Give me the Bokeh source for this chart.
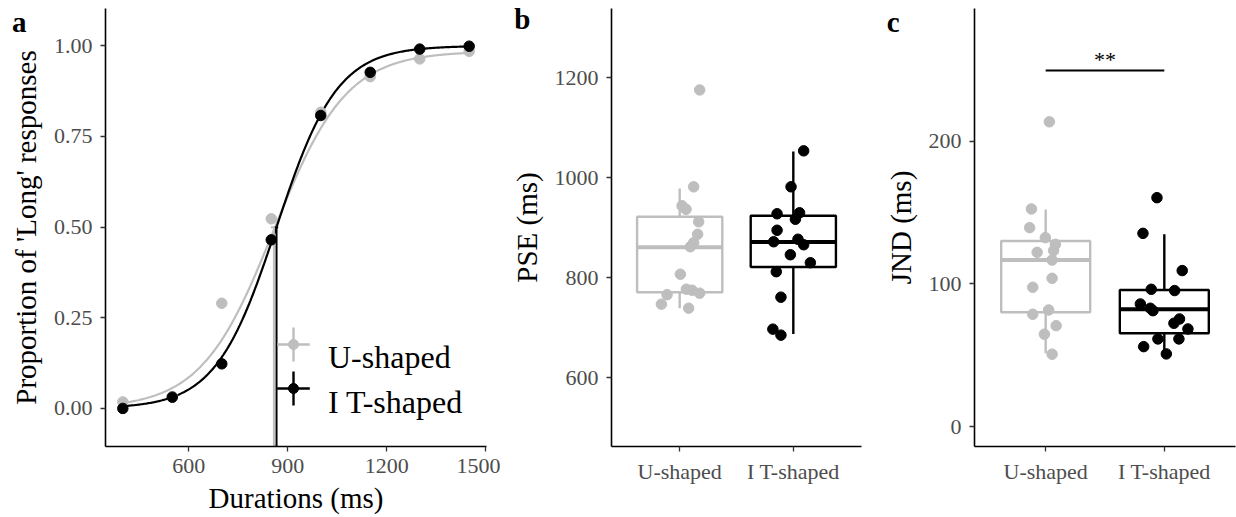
import numpy as np
from bokeh.plotting import figure
from bokeh.models import Range1d, FixedTicker, Label, PrintfTickFormatter, LinearAxis
from bokeh.layouts import row
from bokeh.embed import file_html
from bokeh.resources import INLINE

# ---------------- data ----------------
groups = ["U-shaped", "I T-shaped"]
group_colors = ["#BEBEBE", "#000000"]

durations = [400, 550, 700, 850, 1000, 1150, 1300, 1450]
prop_u = [0.018, 0.033, 0.290, 0.523, 0.817, 0.915, 0.964, 0.985]
prop_t = [0.000, 0.031, 0.123, 0.465, 0.808, 0.927, 0.991, 0.999]

# fitted psychometric parameters (PSE, slope scale, lapse)
fit_pse = [858, 866]
fit_scale = [110, 92]
fit_lapse = [0.015, 0.0]
pse_halfwidth = [9, 5]

# panel b: PSE per participant (value, jitter offset in category units)
pse_u = [1176, 982, 944, 937, 912, 887, 870, 862, 807, 766, 747, 777, 775, 769, 739]
pse_u_jit = [0.176, 0.123, 0.021, 0.056, 0.167, 0.158, 0.123, 0.094, 0.006, -0.111, -0.161, 0.059, 0.109, 0.176, 0.079]
pse_t = [1054, 982, 928, 930, 917, 895, 872, 877, 866, 846, 830, 812, 761, 697, 685]
pse_t_jit = [0.091, -0.020, -0.143, 0.055, 0.018, -0.143, -0.173, 0.041, 0.091, -0.026, 0.150, -0.150, -0.109, -0.180, -0.109]

# panel c: JND per participant
jnd_u = [213.6, 152.5, 139.4, 132.4, 127.7, 122.1, 123.3, 116.7, 103.9, 97.6, 81.7, 78.7, 70.7, 64.7, 50.7]
jnd_u_jit = [0.031, -0.120, -0.135, -0.003, 0.082, -0.072, 0.067, 0.054, 0.054, -0.109, 0.025, -0.109, 0.088, -0.011, 0.054]
jnd_t = [160.4, 135.4, 109.3, 96.2, 95.3, 85.9, 82.9, 81.2, 75.4, 72.4, 68.4, 61.4, 61.4, 56.0, 50.9]
jnd_t_jit = [-0.062, -0.180, 0.151, -0.110, 0.087, -0.202, -0.118, -0.096, 0.128, 0.081, 0.199, -0.054, 0.123, -0.174, 0.017]

# box statistics: lower whisker, q1, median, q3, upper whisker
pse_box = [[738.6, 771, 861, 922, 978.5], [687.5, 821.5, 871.6, 924, 1052.7]]
jnd_box = [[51.4, 80.1, 116.7, 130.0, 152.2], [50.9, 65.4, 82.2, 95.7, 134.7]]

sig_level = 249.6
sig_text = "**"
panel_tags = ["a", "b", "c"]

FONT = "Liberation Serif"
TICK_COL = "#4D4D4D"
TOP, FH = 8, 438


def style(p):
    p.outline_line_color = None
    p.xgrid.visible = False
    p.ygrid.visible = False
    p.background_fill_color = "white"
    p.border_fill_color = "white"
    for ax in p.xaxis + p.yaxis:
        ax.axis_line_width = 1.6
        ax.axis_line_color = "black"
        ax.major_tick_line_color = "#333333"
        ax.major_tick_line_width = 1.3
        ax.major_tick_out = 5
        ax.major_tick_in = 0
        ax.minor_tick_out = 0
        ax.minor_tick_in = 0
        ax.major_label_text_font = FONT
        ax.major_label_text_font_size = "22px"
        ax.major_label_text_color = TICK_COL
        ax.axis_label_text_font = FONT
        ax.axis_label_text_font_size = "29px"
        ax.axis_label_text_font_style = "normal"
        ax.axis_label_text_color = "black"
    p.xaxis.major_label_standoff = 7
    p.xaxis.axis_label_standoff = 6
    p.yaxis.major_label_standoff = 8
    p.yaxis.axis_label_standoff = 9


def letter_axis(p, yr, py, standoff, t):
    # panel tag drawn as the single label of a bare outer axis on the left
    yval = yr[1] - (py - TOP) * (yr[1] - yr[0]) / FH
    ax = LinearAxis(ticker=FixedTicker(ticks=[yval]), major_label_overrides={yval: t})
    ax.axis_line_color = None
    ax.major_tick_line_color = None
    ax.minor_tick_line_color = None
    ax.major_tick_out = 0
    ax.major_label_standoff = standoff
    ax.major_label_text_font = FONT
    ax.major_label_text_font_size = "29px"
    ax.major_label_text_font_style = "bold"
    ax.major_label_text_color = "black"
    p.add_layout(ax, "left")


# ---------------- panel a ----------------
AX0, AX1 = 347.5, 1502.5
AY0, AY1 = -0.105, 1.103
A_LEFT, A_W = 105, 381

pa = figure(width=500, height=517, output_backend="svg", toolbar_location=None,
            x_range=Range1d(AX0, AX1), y_range=Range1d(AY0, AY1),
            min_border_left=A_LEFT, min_border_right=500 - A_LEFT - A_W,
            min_border_top=TOP, min_border_bottom=517 - TOP - FH)
style(pa)
pa.xaxis.axis_label = "Durations (ms)"
pa.yaxis.axis_label = "Proportion of 'Long' responses"
pa.xaxis.ticker = FixedTicker(ticks=[600, 900, 1200, 1500])
pa.yaxis.ticker = FixedTicker(ticks=[0, 0.25, 0.5, 0.75, 1.0])
pa.yaxis.formatter = PrintfTickFormatter(format="%.2f")


def ax_x(px):
    return AX0 + (px - A_LEFT) * (AX1 - AX0) / A_W


def ax_y(py):
    return AY1 - (py - TOP) * (AY1 - AY0) / FH


xs = np.linspace(min(durations), max(durations), 300)
props = [prop_u, prop_t]
for i in range(2):
    curve = (1 - fit_lapse[i]) / (1 + np.exp(-(xs - fit_pse[i]) / fit_scale[i]))
    pa.line(xs, curve, line_color=group_colors[i], line_width=2.2)
for i in range(2):
    pa.segment(x0=[fit_pse[i]], y0=[AY0], x1=[fit_pse[i]], y1=[0.5],
               line_color=group_colors[i], line_width=2.0)
    pa.segment(x0=[fit_pse[i] - pse_halfwidth[i]], y0=[0.5], x1=[fit_pse[i] + pse_halfwidth[i]], y1=[0.5],
               line_color=group_colors[i], line_width=2.0)
for i in range(2):
    pa.scatter(durations, props[i], size=10.5, fill_color=group_colors[i], line_color=group_colors[i])

# legend (manual, keys show point + horizontal + vertical range)
leg_rows = [344, 388]
leg_base = [356, 401]
for i in range(2):
    cy = leg_rows[i]
    pa.segment(x0=[ax_x(276.7)], y0=[ax_y(cy)], x1=[ax_x(309.3)], y1=[ax_y(cy)],
               line_color=group_colors[i], line_width=2.4)
    pa.segment(x0=[ax_x(293)], y0=[ax_y(cy - 17)], x1=[ax_x(293)], y1=[ax_y(cy + 17)],
               line_color=group_colors[i], line_width=2.4)
    pa.scatter([ax_x(293)], [ax_y(cy)], size=10, fill_color=group_colors[i], line_color=group_colors[i])
    pa.add_layout(Label(x=ax_x(327.5), y=ax_y(leg_base[i]), text=groups[i], text_font=FONT,
                        text_font_size="32px", text_color="black", text_baseline="alphabetic"))
letter_axis(pa, (AY0, AY1), 21, -20, panel_tags[0])


# ---------------- panels b and c ----------------
def box_panel(width, left, right, yr, ticks, ylabel, box, vals, jits):
    p = figure(width=width, height=517, output_backend="svg", toolbar_location=None,
               x_range=Range1d(0.4, 2.6), y_range=Range1d(*yr),
               min_border_left=left, min_border_right=right,
               min_border_top=TOP, min_border_bottom=517 - TOP - FH)
    style(p)
    p.yaxis.axis_label = ylabel
    p.xaxis.ticker = FixedTicker(ticks=[1, 2])
    p.xaxis.major_label_overrides = {1: groups[0], 2: groups[1]}
    p.yaxis.ticker = FixedTicker(ticks=ticks)
    for i in range(2):
        pos = i + 1
        lo, q1, med, q3, hi = box[i]
        c = group_colors[i]
        p.segment(x0=[pos, pos], y0=[q3, q1], x1=[pos, pos], y1=[hi, lo], line_color=c, line_width=2.4)
        p.vbar(x=[pos], top=[q3], bottom=[q1], width=0.75, fill_color="white",
               line_color=c, line_width=2.4)
        p.segment(x0=[pos - 0.375], y0=[med], x1=[pos + 0.375], y1=[med], line_color=c, line_width=4)
    for i in range(2):
        xs_ = [i + 1 + j for j in jits[i]]
        p.scatter(xs_, vals[i], size=10.5, fill_color=group_colors[i], line_color=group_colors[i])
    return p


B_YR = (462, 1339)
C_YR = (-14, 293)
pb = box_panel(370, 111, 9, B_YR, [600, 800, 1000, 1200], "PSE (ms)",
               pse_box, [pse_u, pse_t], [pse_u_jit, pse_t_jit])
letter_axis(pb, B_YR, 18, -23, panel_tags[1])
pc = box_panel(366, 104, 1, C_YR, [0, 100, 200], "JND (ms)",
               jnd_box, [jnd_u, jnd_t], [jnd_u_jit, jnd_t_jit])
letter_axis(pc, C_YR, 21, -18, panel_tags[2])
pc.segment(x0=[1], y0=[sig_level], x1=[2], y1=[sig_level], line_color="black", line_width=2)
star_lift = 11 * (C_YR[1] - C_YR[0]) / FH
pc.add_layout(Label(x=1.5, y=sig_level + star_lift, text=sig_text, text_font=FONT, text_font_size="22px",
                    text_color="black", text_align="center", text_baseline="alphabetic"))

layout = row(pa, pb, pc)
open("out.html", "w").write(file_html(layout, INLINE))
